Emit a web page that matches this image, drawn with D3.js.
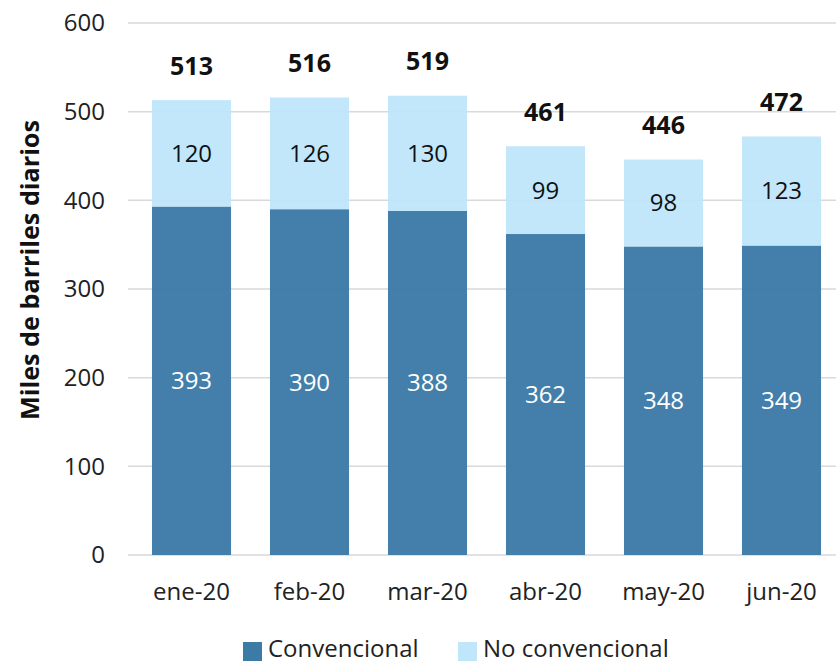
<!DOCTYPE html>
<html><head><meta charset="utf-8">
<script src="https://cdn.jsdelivr.net/npm/d3@7"></script>
<style>body{margin:0;background:#fff}</style>
</head><body>
<svg id="c" width="836" height="664"></svg>
<script>
const categories = ["ene-20","feb-20","mar-20","abr-20","may-20","jun-20"];
const convencional = [393,390,388,362,348,349];
const noConvencional = [120,126,130,99,98,123];
const totals = [513,516,519,461,446,472];
const yTicks = [0,100,200,300,400,500,600];
const seriesNames = ["Convencional","No convencional"];
const colors = ["#3d7ba7","#bfe6fa"];

const svg = d3.select("#c");
const font = "'Open Sans', 'Noto Sans', sans-serif";
const x = d3.scaleBand().domain(categories).range([132.5,840.5]).paddingInner(0.33).paddingOuter(0.165);
const y = d3.scaleLinear().domain([0,600]).range([555,23]);

// gridlines
svg.append("g").selectAll("line").data(yTicks).join("line")
  .attr("x1",128).attr("x2",836)
  .attr("y1",d=>y(d)).attr("y2",d=>y(d))
  .attr("stroke","#d9d9d9").attr("stroke-width",1.5);

// y tick labels
svg.append("g").selectAll("text").data(yTicks).join("text")
  .attr("x",105).attr("y",d=>y(d)).attr("dy","0.35em")
  .attr("text-anchor","end").attr("font-family",font).attr("font-size",24)
  .attr("fill","#222").text(d=>d);

// y label
svg.append("text").attr("transform","translate(30,270) rotate(-90)").attr("dy","0.35em")
  .attr("text-anchor","middle").attr("font-family",font).attr("font-weight","bold")
  .attr("font-size",25).attr("fill","#111").attr("textLength",300).attr("lengthAdjust","spacingAndGlyphs")
  .text("Miles de barriles diarios");

const data = categories.map((c,i)=>({c, a:convencional[i], b:noConvencional[i], t:totals[i]}));
const g = svg.append("g");
g.selectAll("rect.a").data(data).join("rect").attr("class","a")
  .attr("x",d=>x(d.c)).attr("width",x.bandwidth())
  .attr("y",d=>y(d.a)).attr("height",d=>y(0)-y(d.a))
  .attr("fill",colors[0]).attr("fill-opacity",0.97);
g.selectAll("rect.b").data(data).join("rect").attr("class","b")
  .attr("x",d=>x(d.c)).attr("width",x.bandwidth())
  .attr("y",d=>y(d.a+d.b)).attr("height",d=>y(d.a)-y(d.a+d.b))
  .attr("fill",colors[1]).attr("fill-opacity",0.95);

// labels
g.selectAll("text.a").data(data).join("text")
  .attr("x",d=>x(d.c)+x.bandwidth()/2).attr("y",d=>(y(0)+y(d.a))/2).attr("dy","0.35em")
  .attr("text-anchor","middle").attr("font-family",font).attr("font-size",24).attr("fill","#fff")
  .text(d=>d.a);
g.selectAll("text.b").data(data).join("text")
  .attr("x",d=>x(d.c)+x.bandwidth()/2).attr("y",d=>(y(d.a)+y(d.a+d.b))/2).attr("dy","0.35em")
  .attr("text-anchor","middle").attr("font-family",font).attr("font-size",24).attr("fill","#111")
  .text(d=>d.b);
g.selectAll("text.t").data(data).join("text")
  .attr("x",d=>x(d.c)+x.bandwidth()/2).attr("y",d=>y(d.t)-34).attr("dy","0.35em")
  .attr("text-anchor","middle").attr("font-family",font).attr("font-weight","bold").attr("font-size",25).attr("fill","#111")
  .text(d=>d.t);

// x labels
svg.append("g").selectAll("text").data(categories).join("text")
  .attr("x",d=>x(d)+x.bandwidth()/2).attr("y",592).attr("dy","0.35em")
  .attr("text-anchor","middle").attr("font-family",font).attr("font-size",24).attr("fill","#222")
  .text(d=>d);

// legend
const leg = [{n:seriesNames[0],c:colors[0],x:243},{n:seriesNames[1],c:colors[1],x:458}];
const lg = svg.append("g");
lg.selectAll("rect").data(leg).join("rect")
  .attr("x",d=>d.x).attr("y",642).attr("width",19).attr("height",19).attr("fill",d=>d.c);
lg.selectAll("text").data(leg).join("text")
  .attr("x",d=>d.x+25).attr("y",649).attr("dy","0.35em")
  .attr("font-family",font).attr("font-size",24).attr("fill","#222").text(d=>d.n);
</script>
</body></html>
